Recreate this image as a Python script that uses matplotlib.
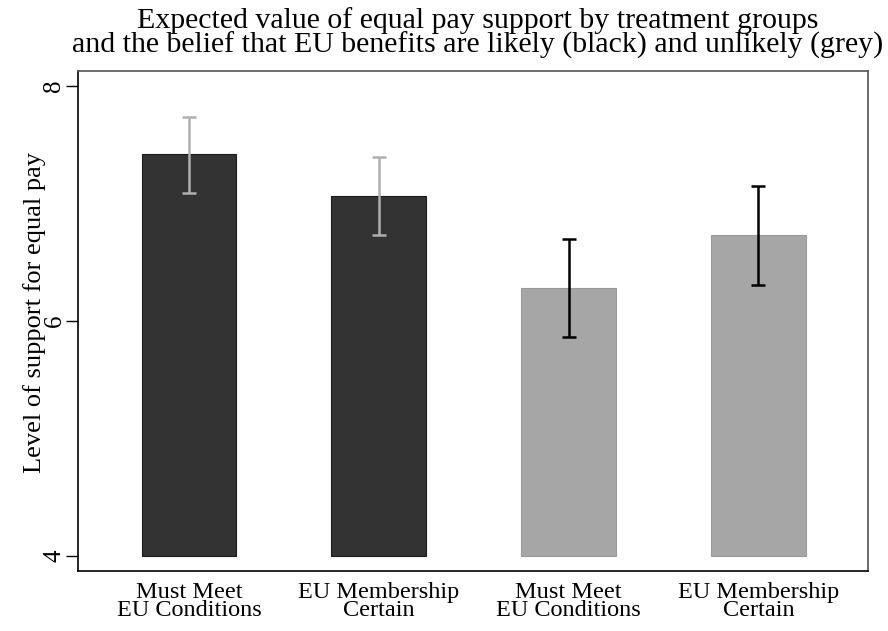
import matplotlib.pyplot as plt
import numpy as np

plt.rcParams['font.family'] = ['Liberation Serif', 'DejaVu Serif']

labels = ['Must Meet\nEU Conditions', 'EU Membership\nCertain',
          'Must Meet\nEU Conditions', 'EU Membership\nCertain']
means = [7.42, 7.06, 6.28, 6.73]
upper = [7.74, 7.40, 6.70, 7.15]
lower = [7.09, 6.73, 5.86, 6.31]
groups = ['likely', 'likely', 'unlikely', 'unlikely']

bar_color = {'likely': '#333333', 'unlikely': '#a6a6a6'}
edge_color = {'likely': '#1a1a1a', 'unlikely': '#999999'}
err_color = {'likely': '#b0b0b0', 'unlikely': '#000000'}

fig = plt.figure(figsize=(8.88, 6.31), dpi=100)
ax = fig.add_axes([0.0878, 0.0951, 0.8897, 0.7924])

x = np.arange(1, len(means) + 1)
base = 4
for xi, m, lo, hi, g in zip(x, means, lower, upper, groups):
    ax.bar(xi, m - base, bottom=base, width=0.5, color=bar_color[g],
           edgecolor=edge_color[g], linewidth=0.8)
    ax.errorbar(xi, m, yerr=[[m - lo], [hi - m]], fmt='none',
                ecolor=err_color[g], elinewidth=1.8, capsize=5, capthick=1.8)

ax.set_xlim(0.415, 4.577)
ax.set_ylim(3.872, 8.128)
ax.set_yticks([4, 6, 8])
ax.set_yticklabels(['4', '6', '8'], rotation=90, va='center', fontsize=18)
ax.set_xticks(x)
ax.set_xticklabels(labels, fontsize=17.5, linespacing=0.82)
ax.tick_params(axis='x', length=0, pad=8)
ax.tick_params(axis='y', length=9, width=1, pad=0)

ax.set_ylabel('Level of support for equal pay', fontsize=19)
ax.yaxis.set_label_coords(-0.041, 0.516)
ax.set_title('Expected value of equal pay support by treatment groups\n'
             'and the belief that EU benefits are likely (black) and unlikely (grey)',
             fontsize=21.5, linespacing=0.88, pad=13.5, x=0.506)

for s in ['left', 'bottom']:
    ax.spines[s].set_color('black')
    ax.spines[s].set_linewidth(1.2)
for s in ['top', 'right']:
    ax.spines[s].set_color('#555555')
    ax.spines[s].set_linewidth(1.2)

plt.savefig('out.png', dpi=100)
